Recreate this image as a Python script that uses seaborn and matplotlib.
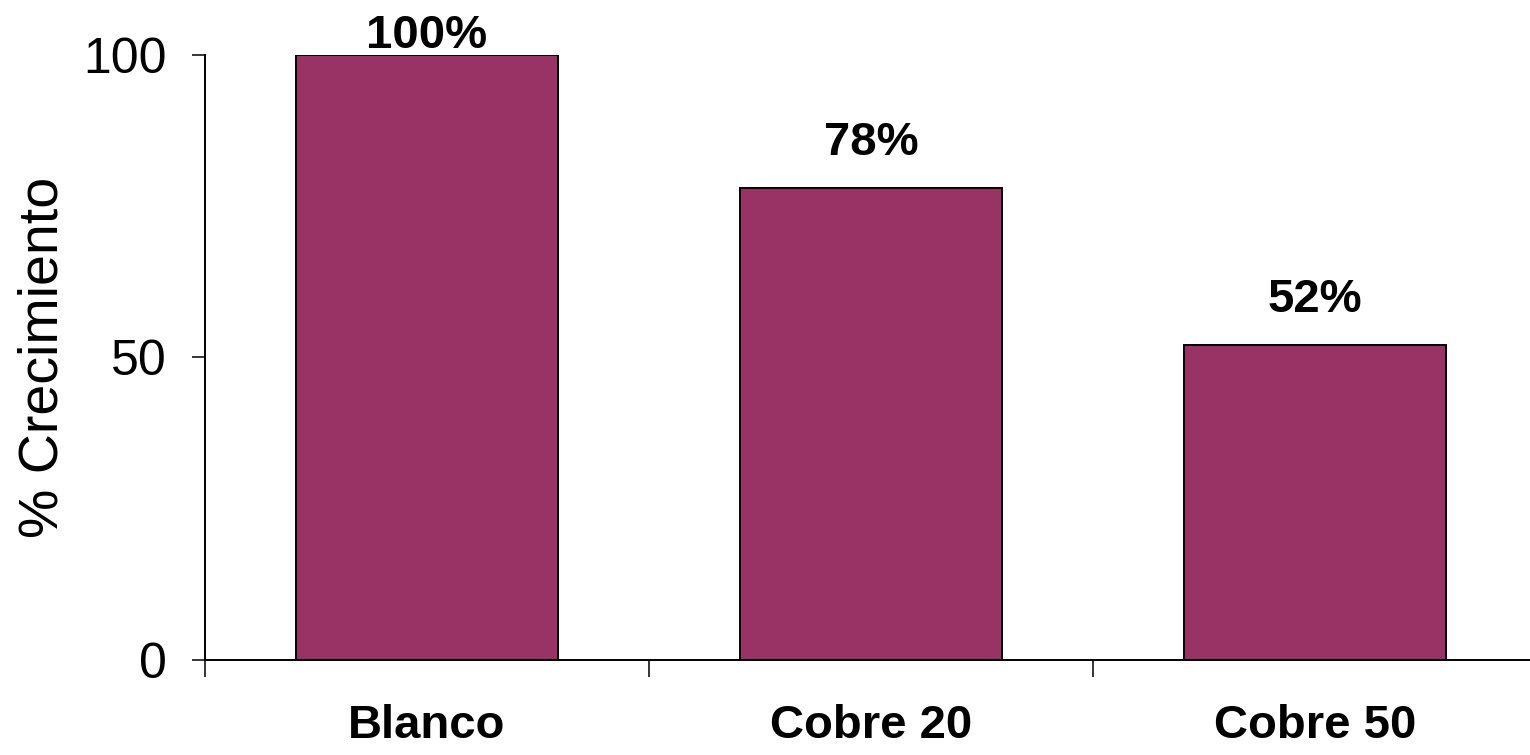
import matplotlib
matplotlib.use("Agg")
import matplotlib.pyplot as plt
import seaborn as sns
import pandas as pd
from matplotlib.ticker import FixedLocator

# Growth relative to the control
categories = ["Blanco", "Cobre 20", "Cobre 50"]
values = [100, 78, 52]
value_labels = ["100%", "78%", "52%"]
y_ticks = [0, 50, 100]

sns.set_theme(style="white")
plt.rcParams["font.family"] = ["Liberation Sans", "DejaVu Sans"]
plt.rcParams["text.color"] = "black"
plt.rcParams["axes.labelcolor"] = "black"
plt.rcParams["xtick.color"] = "black"
plt.rcParams["ytick.color"] = "black"

df = pd.DataFrame({"grupo": categories, "crecimiento": values})

fig = plt.figure(figsize=(15.3, 7.55), dpi=100)
ax = fig.add_axes([0.134, 0.1258, 0.8706, 0.8014])

sns.barplot(data=df, x="grupo", y="crecimiento", color="#993366",
            saturation=1, width=0.59, edgecolor="black", linewidth=1.4, ax=ax)

ax.set_xlim(-0.5, len(categories) - 0.5)
ax.set_ylim(0, 100)
ax.set_yticks(y_ticks)
ax.set_yticklabels([str(t) for t in y_ticks], fontsize=36, color="black")
ax.set_xticks(range(len(categories)))
ax.set_xticklabels(categories, fontsize=34, fontweight="bold", color="black")
ax.xaxis.set_minor_locator(FixedLocator([i - 0.5 for i in range(len(categories) + 1)]))

ax.tick_params(axis="x", which="major", length=0, pad=32)
ax.tick_params(axis="x", which="minor", length=12, width=1.1, direction="out",
               color="black", bottom=True)
ax.tick_params(axis="y", length=9.5, width=1.1, direction="out", color="black",
               pad=18, left=True)

ax.set_xlabel("")
ax.set_ylabel("% Crecimiento", fontsize=40, labelpad=10, color="black")

for side in ["top", "right"]:
    ax.spines[side].set_visible(False)
for side in ["left", "bottom"]:
    ax.spines[side].set_color("black")
    ax.spines[side].set_linewidth(1.4)
ax.spines["bottom"].set_clip_on(False)

# Value labels above each bar; the tallest one sits close to its bar to stay on the canvas
for i, (v, lab) in enumerate(zip(values, value_labels)):
    offset = 24 if v < 95 else 5
    ax.annotate(lab, xy=(i, v), xytext=(0, offset), textcoords="offset points",
                ha="center", va="baseline", fontsize=34, fontweight="bold",
                color="black", annotation_clip=False)

fig.savefig("out.png", dpi=100, facecolor="white")
